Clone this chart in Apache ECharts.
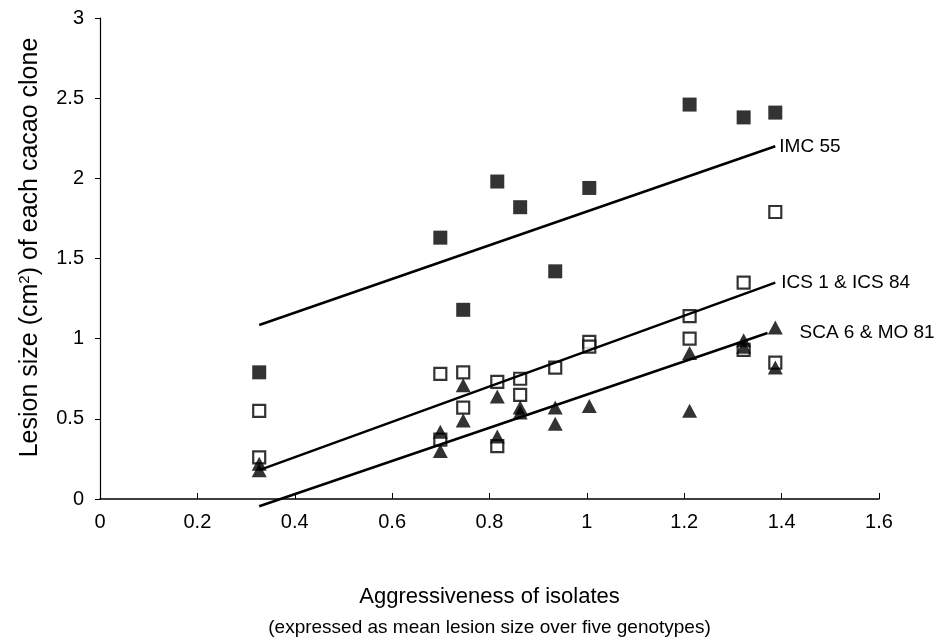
<!DOCTYPE html>
<html>
<head>
<meta charset="UTF-8">
<title>Lesion size vs aggressiveness</title>
<script type="text/javascript" src="https://cdn.jsdelivr.net/npm/echarts@6/dist/echarts.min.js"></script>
</head>
<body style="margin:0;background:#fff;">
<div id="main" style="width:941px;height:643px;"></div>

<script type="text/javascript">
// isolate aggressiveness (x) and lesion size (y) per clone group
var imcPts = [
  [0.327, 0.79], [0.699, 1.63], [0.746, 1.18], [0.816, 1.98], [0.863, 1.82],
  [0.935, 1.42], [1.005, 1.94], [1.211, 2.46], [1.322, 2.38], [1.387, 2.41]
];
var icsPts = [
  [0.327, 0.55], [0.327, 0.26], [0.699, 0.78], [0.699, 0.37], [0.746, 0.79],
  [0.746, 0.57], [0.816, 0.73], [0.816, 0.33], [0.863, 0.75], [0.863, 0.65],
  [0.935, 0.82], [1.005, 0.98], [1.005, 0.95], [1.211, 1.14], [1.211, 1.00],
  [1.322, 1.35], [1.322, 0.93], [1.387, 1.79], [1.387, 0.85]
];
var scaPts = [
  [0.327, 0.22], [0.327, 0.18], [0.699, 0.42], [0.699, 0.30], [0.746, 0.71],
  [0.746, 0.49], [0.816, 0.64], [0.816, 0.39], [0.863, 0.57], [0.863, 0.54],
  [0.935, 0.57], [0.935, 0.47], [1.005, 0.58], [1.211, 0.91], [1.211, 0.55],
  [1.322, 0.99], [1.322, 0.95], [1.387, 1.07], [1.387, 0.82]
];
// fitted trend lines (start, end)
var imcLine = [[0.327, 1.085], [1.387, 2.20]];
var icsLine = [[0.327, 0.18], [1.387, 1.35]];
var scaLine = [[0.327, -0.045], [1.371, 1.035]];
var lineNames = ['IMC 55', 'ICS 1 & ICS 84', 'SCA 6 & MO 81'];

var FONT = 'Liberation Sans, Arial, sans-serif';
var mychart = echarts.init(document.getElementById('main'));

// line with a text label on its last point
function trend(pts, name, dx) {
  var data = pts.map(function (p, i) {
    if (i < pts.length - 1) return p;
    return {
      value: p,
      label: {
        show: true, position: 'right', distance: dx, formatter: name,
        color: '#000', fontSize: 19, fontFamily: FONT
      }
    };
  });
  return {
    type: 'line', data: data, symbol: 'circle', symbolSize: 0, showSymbol: true,
    clip: false, silent: true, z: 4,
    lineStyle: { color: '#000', width: 2.5 }, itemStyle: { color: '#000' }
  };
}

var option = {
  animation: false,
  backgroundColor: '#fff',
  grid: { left: 100, right: 62, top: 18, bottom: 144, outerBoundsMode: 'none', containLabel: false },
  xAxis: {
    type: 'value', min: 0, max: 1.6, interval: 0.2,
    name: '{a|Aggressiveness of isolates}\n{b|(expressed as mean lesion size over five genotypes)}',
    nameLocation: 'middle', nameGap: 82,
    nameTextStyle: {
      color: '#000', fontFamily: FONT,
      rich: {
        a: { fontSize: 22, fontFamily: FONT, color: '#000', lineHeight: 31 },
        b: { fontSize: 19, fontFamily: FONT, color: '#000', lineHeight: 31 }
      }
    },
    axisLine: { lineStyle: { color: '#000', width: 1.5 } },
    axisTick: { inside: true, length: 6, lineStyle: { color: '#000' } },
    axisLabel: { color: '#000', fontSize: 20, fontFamily: FONT, margin: 13 },
    splitLine: { show: false }
  },
  yAxis: {
    type: 'value', min: 0, max: 3, interval: 0.5,
    name: 'Lesion size (cm{s|2}) of each cacao clone',
    nameLocation: 'middle', nameGap: 56, nameRotate: 90,
    nameTextStyle: {
      color: '#000', fontSize: 25, fontFamily: FONT, padding: [0, 0, 0, 22],
      rich: { s: { fontSize: 15, fontFamily: FONT, color: '#000', verticalAlign: 'top', padding: [0, 0, 12, 0] } }
    },
    axisLine: { show: true, lineStyle: { color: '#000', width: 1.2 } },
    axisTick: { show: true, length: 5, lineStyle: { color: '#000' } },
    axisLabel: { color: '#000', fontSize: 20, fontFamily: FONT, margin: 16 },
    splitLine: { show: false }
  },
  series: [
    {
      name: 'IMC 55', type: 'scatter', data: imcPts, symbol: 'rect', symbolSize: 14, z: 2,
      itemStyle: { color: '#000' }
    },
    {
      name: 'ICS 1 & ICS 84', type: 'scatter', data: icsPts, symbol: 'rect', symbolSize: 12, z: 2,
      itemStyle: { color: '#fff', borderColor: '#000', borderWidth: 2.2 }
    },
    {
      name: 'SCA 6 & MO 81', type: 'scatter', data: scaPts, symbol: 'triangle', symbolSize: [15, 14], z: 3,
      itemStyle: { color: '#000' }
    },
    trend(imcLine, lineNames[0], 4),
    trend(icsLine, lineNames[1], 6),
    trend(scaLine, lineNames[2], 32)
  ]
};

mychart.setOption(option);
</script>
</body>
</html>
